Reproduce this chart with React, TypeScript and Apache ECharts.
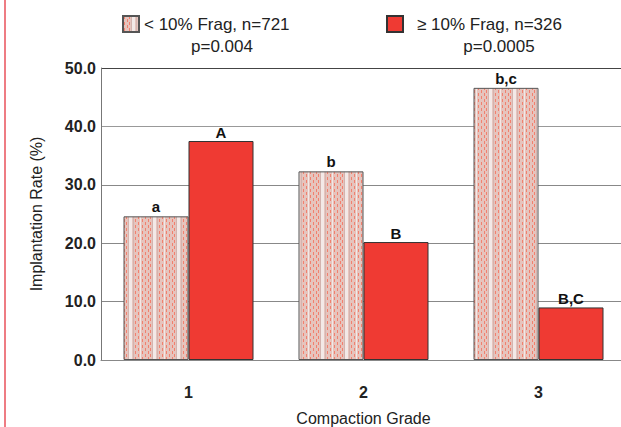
import React, { useEffect, useRef } from "react";
import * as echarts from "echarts";

const categories = ["1", "2", "3"];
const lowFragValues = [24.6, 32.3, 46.6];
const highFragValues = [37.5, 20.2, 9.0];
const lowFragLetters = ["a", "b", "b,c"];
const highFragLetters = ["A", "B", "B,C"];
const seriesNames = ["< 10% Frag, n=721", "≥ 10% Frag, n=326"];
const pValues = ["p=0.004", "p=0.0005"];

function makePattern(): string {
  const c = document.createElement("canvas");
  c.width = 24;
  c.height = 6;
  const ctx = c.getContext("2d")!;
  ctx.fillStyle = "#e6c4bd";
  ctx.fillRect(0, 0, 24, 6);
  ctx.fillStyle = "#f3e9e7";
  ctx.fillRect(9, 0, 3, 6);
  ctx.fillRect(20, 0, 1, 6);
  ctx.fillStyle = "#d3b4af";
  ctx.fillRect(8, 0, 1, 6);
  ctx.fillRect(13, 0, 1, 6);
  ctx.fillStyle = "#f2806e";
  [1, 4, 6, 15, 18, 22].forEach((x, i) => {
    const off = i % 2 === 0 ? 0 : 3;
    ctx.fillRect(x, off, 1, 3);
  });
  return c.toDataURL();
}

export default function App() {
  const ref = useRef<HTMLDivElement>(null);
  useEffect(() => {
    if (!ref.current) return;
    const chart = echarts.init(ref.current, undefined, { renderer: "svg" });
    const pattern = { image: makePattern(), repeat: "repeat" as const };
    const red = "#ef3a33";
    const font = "Liberation Sans, Arial, sans-serif";
    chart.setOption({
      animation: false,
      backgroundColor: "#ffffff",
      textStyle: { fontFamily: font },
      grid: { left: 101, top: 68, bottom: 67, right: 4, outerBoundsMode: "none", containLabel: false },
      legend: [
        {
          data: [seriesNames[0]],
          left: 122,
          top: 15,
          icon: "rect",
          itemWidth: 16,
          itemHeight: 16,
          itemGap: 0,
          padding: 0,
          textStyle: { fontSize: 17, lineHeight: 17, color: "#222", fontFamily: font },
        },
        {
          data: [seriesNames[1]],
          left: 386,
          top: 15,
          icon: "rect",
          itemWidth: 16,
          itemHeight: 16,
          itemGap: 0,
          padding: 0,
          textStyle: {
            fontSize: 17,
            lineHeight: 17,
            color: "#222",
            fontFamily: font,
            padding: [0, 0, 0, 9],
          },
        },
      ],
      xAxis: {
        type: "category",
        data: categories,
        name: "Compaction Grade",
        nameLocation: "middle",
        nameGap: 50,
        nameTextStyle: { fontSize: 16, lineHeight: 16, color: "#222", fontFamily: font },
        axisLine: { lineStyle: { color: "#888", width: 1 } },
        axisTick: { show: false },
        axisLabel: { margin: 24, fontSize: 16, fontWeight: "bold", color: "#222" },
      },
      yAxis: {
        type: "value",
        min: 0,
        max: 50,
        interval: 10,
        name: "Implantation Rate (%)",
        nameLocation: "middle",
        nameGap: 57,
        nameTextStyle: { fontSize: 16, color: "#222", fontFamily: font },
        axisLine: { show: true, lineStyle: { color: "#777", width: 1 } },
        axisTick: { show: false },
        axisLabel: {
          margin: 5,
          fontSize: 16,
          fontWeight: "bold",
          color: "#222",
          formatter: (v: number) => v.toFixed(1),
        },
        splitLine: {
          show: true,
          lineStyle: { color: ["#888", "#888", "#888", "#888", "#999", "#444"], width: 1 },
        },
      },
      series: [
        {
          name: seriesNames[0],
          type: "bar",
          barWidth: 65,
          barGap: "0%",
          data: lowFragValues,
          itemStyle: { color: pattern, borderColor: "#555", borderWidth: 1 },
          label: {
            show: true,
            position: "top",
            distance: 2,
            fontSize: 15,
            fontWeight: "bold",
            color: "#111",
            formatter: (p: any) => lowFragLetters[p.dataIndex],
          },
        },
        {
          name: seriesNames[1],
          type: "bar",
          barWidth: 65,
          barGap: "0%",
          data: highFragValues,
          itemStyle: { color: red, borderColor: "#333", borderWidth: 1 },
          label: {
            show: true,
            position: "top",
            distance: 1,
            fontSize: 15,
            fontWeight: "bold",
            color: "#111",
            formatter: (p: any) => highFragLetters[p.dataIndex],
          },
        },
      ],
      graphic: [
        {
          type: "line",
          shape: { x1: 5, y1: 0, x2: 5, y2: 427 },
          style: { stroke: "#e8505a", lineWidth: 1.5 },
        },
        {
          type: "text",
          x: 222,
          y: 46,
          style: {
            text: pValues[0],
            fontSize: 17,
            lineHeight: 17,
            fill: "#222",
            fontFamily: font,
            align: "center",
            verticalAlign: "middle",
          },
        },
        {
          type: "text",
          x: 499,
          y: 46,
          style: {
            text: pValues[1],
            fontSize: 17,
            lineHeight: 17,
            fill: "#222",
            fontFamily: font,
            align: "center",
            verticalAlign: "middle",
          },
        },
      ],
    });
    return () => chart.dispose();
  }, []);
  return (
    <div
      style={{
        position: "fixed",
        left: 0,
        top: 0,
        width: 621,
        height: 427,
        overflow: "hidden",
      }}
    >
      <div ref={ref} style={{ width: 630, height: 427 }} />
    </div>
  );
}
